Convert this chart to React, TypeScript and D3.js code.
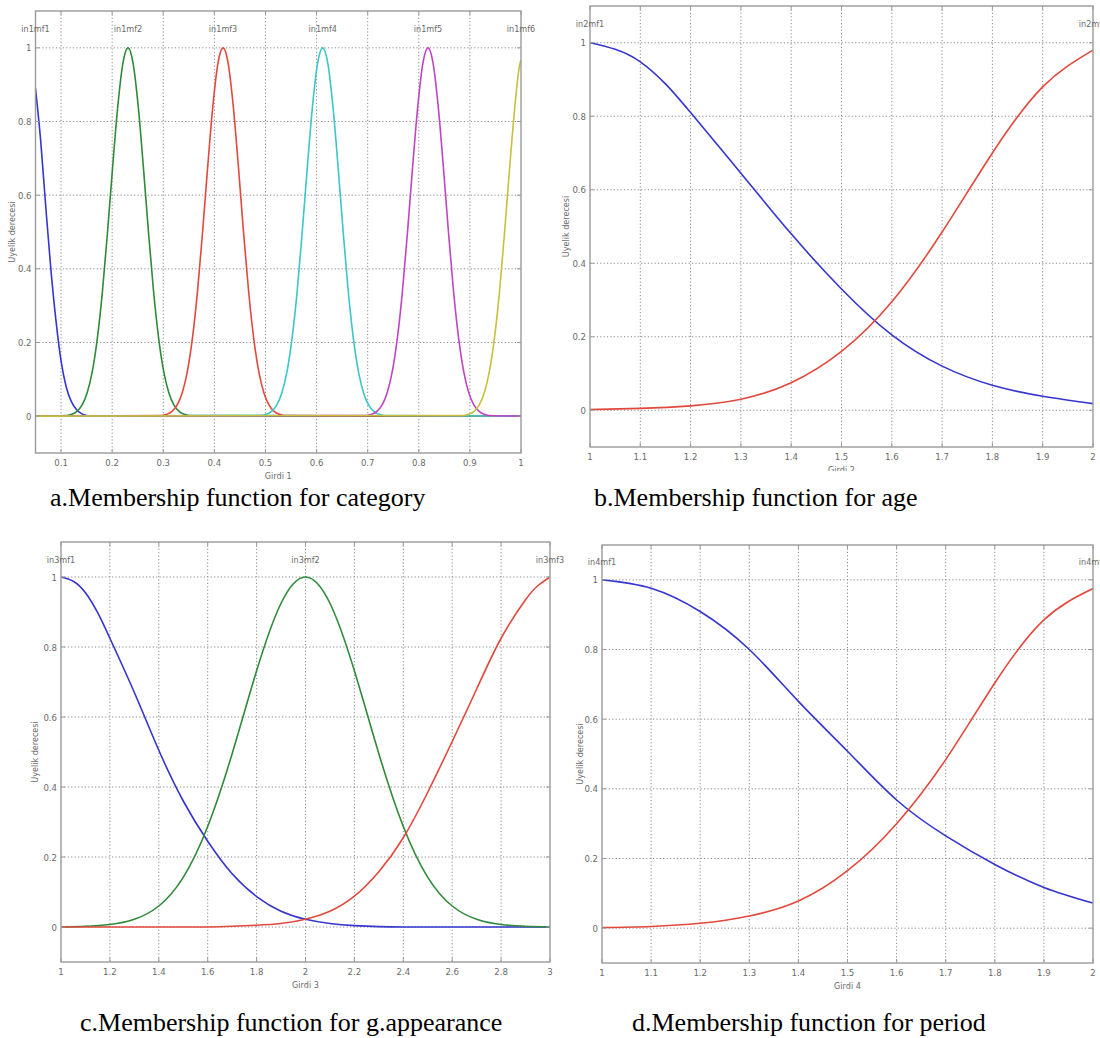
import React from 'react';
import * as d3 from 'd3';

type P = [number, number];

// ---------- Panel a: category ----------
const aXTicks = [0.1, 0.2, 0.3, 0.4, 0.5, 0.6, 0.7, 0.8, 0.9, 1];
const aLabels = ['in1mf1', 'in1mf2', 'in1mf3', 'in1mf4', 'in1mf5', 'in1mf6'];
const aLabelX = [0.05, 0.231, 0.417, 0.612, 0.818, 1.0];
const aMf1: P[] = [[0.05, 0.89], [0.06, 0.75], [0.07, 0.57], [0.08, 0.4], [0.09, 0.26], [0.1, 0.15], [0.11, 0.08], [0.12, 0.04], [0.13, 0.018], [0.14, 0.007], [0.15, 0.002], [0.16, 0], [1, 0]];
const aMf2: P[] = [[0.05, 0], [0.111, 0.002], [0.121, 0.005], [0.131, 0.013], [0.141, 0.03], [0.151, 0.063], [0.161, 0.12], [0.171, 0.211], [0.181, 0.339], [0.191, 0.501], [0.201, 0.678], [0.211, 0.841], [0.221, 0.958], [0.231, 1], [0.241, 0.958], [0.251, 0.841], [0.261, 0.678], [0.271, 0.501], [0.281, 0.339], [0.291, 0.211], [0.301, 0.12], [0.311, 0.063], [0.321, 0.03], [0.331, 0.013], [0.341, 0.005], [0.351, 0.002], [1, 0]];
const aMf3: P[] = [[0.05, 0], [0.297, 0.002], [0.307, 0.005], [0.317, 0.013], [0.327, 0.03], [0.337, 0.063], [0.347, 0.12], [0.357, 0.211], [0.367, 0.339], [0.377, 0.501], [0.387, 0.678], [0.397, 0.841], [0.407, 0.958], [0.417, 1], [0.427, 0.958], [0.437, 0.841], [0.447, 0.678], [0.457, 0.501], [0.467, 0.339], [0.477, 0.211], [0.487, 0.12], [0.497, 0.063], [0.507, 0.03], [0.517, 0.013], [0.527, 0.005], [0.537, 0.002], [1, 0]];
const aMf4: P[] = [[0.05, 0], [0.492, 0.002], [0.502, 0.005], [0.512, 0.013], [0.522, 0.03], [0.532, 0.063], [0.542, 0.12], [0.552, 0.211], [0.562, 0.339], [0.572, 0.501], [0.582, 0.678], [0.592, 0.841], [0.602, 0.958], [0.612, 1], [0.622, 0.958], [0.632, 0.841], [0.642, 0.678], [0.652, 0.501], [0.662, 0.339], [0.672, 0.211], [0.682, 0.12], [0.692, 0.063], [0.702, 0.03], [0.712, 0.013], [0.722, 0.005], [0.732, 0.002], [1, 0]];
const aMf5: P[] = [[0.05, 0], [0.698, 0.002], [0.708, 0.005], [0.718, 0.013], [0.728, 0.03], [0.738, 0.063], [0.748, 0.12], [0.758, 0.211], [0.768, 0.339], [0.778, 0.501], [0.788, 0.678], [0.798, 0.841], [0.808, 0.958], [0.818, 1], [0.828, 0.958], [0.838, 0.841], [0.848, 0.678], [0.858, 0.501], [0.868, 0.339], [0.878, 0.211], [0.888, 0.12], [0.898, 0.063], [0.908, 0.03], [0.918, 0.013], [0.928, 0.005], [0.938, 0.002], [1, 0]];
const aMf6: P[] = [[0.05, 0], [0.888, 0.002], [0.898, 0.005], [0.908, 0.013], [0.918, 0.03], [0.928, 0.063], [0.938, 0.12], [0.948, 0.211], [0.958, 0.339], [0.968, 0.501], [0.978, 0.678], [0.988, 0.841], [0.998, 0.958], [1.0, 0.967]];

// ---------- Panel b: age ----------
const bXTicks = [1, 1.1, 1.2, 1.3, 1.4, 1.5, 1.6, 1.7, 1.8, 1.9, 2];
const bLabels = ['in2mf1', 'in2mf2'];
const bLabelX = [1.0, 2.0];
const bMf1: P[] = [[1, 1], [1.05, 0.982], [1.1, 0.948], [1.15, 0.888], [1.2, 0.81], [1.3, 0.645], [1.4, 0.48], [1.5, 0.33], [1.6, 0.205], [1.7, 0.12], [1.8, 0.068], [1.9, 0.038], [2, 0.018]];
const bMf2: P[] = [[1, 0.002], [1.1, 0.005], [1.2, 0.012], [1.3, 0.03], [1.4, 0.075], [1.5, 0.16], [1.6, 0.295], [1.7, 0.485], [1.8, 0.7], [1.9, 0.88], [2, 0.98]];

// ---------- Panel c: g.appearance ----------
const cXTicks = [1, 1.2, 1.4, 1.6, 1.8, 2, 2.2, 2.4, 2.6, 2.8, 3];
const cLabels = ['in3mf1', 'in3mf2', 'in3mf3'];
const cLabelX = [1.0, 2.0, 3.0];
const cMf1: P[] = [[1, 1], [1.05, 0.988], [1.1, 0.955], [1.15, 0.898], [1.2, 0.825], [1.3, 0.67], [1.4, 0.505], [1.5, 0.36], [1.6, 0.245], [1.7, 0.152], [1.8, 0.087], [1.9, 0.045], [2, 0.022], [2.1, 0.01], [2.2, 0.004], [2.3, 0.001], [2.4, 0], [2.5, 0], [2.6, 0], [2.7, 0], [2.8, 0], [2.9, 0], [3, 0]];
const cMf2: P[] = [[1, 0], [1.1, 0.002], [1.2, 0.007], [1.3, 0.022], [1.4, 0.06], [1.5, 0.142], [1.6, 0.287], [1.7, 0.495], [1.8, 0.732], [1.9, 0.925], [2, 1], [2.1, 0.925], [2.2, 0.732], [2.3, 0.495], [2.4, 0.287], [2.5, 0.142], [2.6, 0.06], [2.7, 0.022], [2.8, 0.007], [2.9, 0.002], [3, 0]];
const cMf3: P[] = [[1, 0], [1.1, 0], [1.2, 0], [1.3, 0], [1.4, 0], [1.5, 0], [1.6, 0], [1.7, 0.002], [1.8, 0.005], [1.9, 0.01], [2, 0.022], [2.1, 0.045], [2.2, 0.088], [2.3, 0.158], [2.4, 0.255], [2.5, 0.385], [2.6, 0.53], [2.7, 0.68], [2.8, 0.825], [2.9, 0.935], [2.95, 0.975], [3, 1]];

// ---------- Panel d: period ----------
const dXTicks = [1, 1.1, 1.2, 1.3, 1.4, 1.5, 1.6, 1.7, 1.8, 1.9, 2];
const dLabels = ['in4mf1', 'in4mf2'];
const dLabelX = [1.0, 2.0];
const dMf1: P[] = [[1, 1], [1.1, 0.976], [1.2, 0.909], [1.3, 0.8], [1.4, 0.651], [1.5, 0.508], [1.6, 0.368], [1.7, 0.265], [1.8, 0.183], [1.9, 0.117], [2, 0.072]];
const dMf2: P[] = [[1, 0.002], [1.1, 0.005], [1.2, 0.014], [1.3, 0.035], [1.4, 0.078], [1.5, 0.165], [1.6, 0.3], [1.7, 0.484], [1.8, 0.704], [1.9, 0.885], [2, 0.975]];

const yTicks = [0, 0.2, 0.4, 0.6, 0.8, 1];

const C = {
  blue: '#3535d0',
  green: '#2f8a3a',
  red: '#e2483c',
  cyan: '#3cc6c8',
  magenta: '#c045c2',
  yellow: '#c6c03c',
};

const TICKFONT = '"Liberation Sans Narrow", "Arial Narrow", "DejaVu Sans Condensed", sans-serif';

interface Series { pts: P[]; color: string; }
interface PanelProps {
  id: string;
  left: number; right: number; top: number; bottom: number;
  xDomain: [number, number];
  xTicks: number[];
  series: Series[];
  labels: string[];
  labelX: number[];
  xLabel: string;
  yLabelX: number;
  caption: string;
  captionX: number;
  captionY: number;
  xLabelClip?: number;
  smooth?: boolean;
}

function Panel(p: PanelProps) {
  const x = d3.scaleLinear().domain(p.xDomain).range([p.left, p.right]);
  const y = d3.scaleLinear().domain([-0.1, 1.1]).range([p.bottom, p.top]);
  const line = d3.line<P>().x(d => x(d[0])).y(d => y(d[1]))
    .curve(p.smooth ? d3.curveNatural : d3.curveMonotoneX);
  const fmt = d3.format('~g');
  const gridColor = '#8a8a8a';
  const axisColor = '#9a9a9a';
  const inner = (v: number) => Math.abs(x(v) - p.left) > 1 && Math.abs(x(v) - p.right) > 1;
  const midX = (p.left + p.right) / 2;
  const midY = (y(0) + y(1)) / 2;
  return (
    <g>
      <defs>
        <clipPath id={`clip-${p.id}`}>
          <rect x={p.left} y={p.top} width={p.right - p.left} height={p.bottom - p.top} />
        </clipPath>
        {p.xLabelClip !== undefined && (
          <clipPath id={`xl-${p.id}`}>
            <rect x={p.left} y={0} width={p.right - p.left} height={p.xLabelClip} />
          </clipPath>
        )}
      </defs>
      {p.xTicks.filter(inner).map(t => (
        <line key={`gx${t}`} x1={x(t)} x2={x(t)} y1={p.top} y2={p.bottom} stroke={gridColor} strokeWidth={1} strokeDasharray="1.2,2.2" />
      ))}
      {yTicks.map(t => (
        <line key={`gy${t}`} x1={p.left} x2={p.right} y1={y(t)} y2={y(t)} stroke={gridColor} strokeWidth={1} strokeDasharray="1.2,2.2" />
      ))}
      <g clipPath={`url(#clip-${p.id})`}>
        {p.series.map((s, i) => (
          <path key={i} d={line(s.pts) || ''} fill="none" stroke={s.color} strokeWidth={1.6} strokeLinejoin="round" />
        ))}
      </g>
      <rect x={p.left} y={p.top} width={p.right - p.left} height={p.bottom - p.top} fill="none" stroke={axisColor} strokeWidth={1.4} />
      {p.xTicks.map(t => (
        <g key={`tx${t}`}>
          <line x1={x(t)} x2={x(t)} y1={p.bottom} y2={p.bottom - 4} stroke={axisColor} />
          <line x1={x(t)} x2={x(t)} y1={p.top} y2={p.top + 4} stroke={axisColor} />
          <text x={x(t)} y={p.bottom + 13} textAnchor="middle" fontSize={9.5} fill="#6a6a6a" fontFamily={TICKFONT}>{fmt(t)}</text>
        </g>
      ))}
      {yTicks.map(t => (
        <g key={`ty${t}`}>
          <line x1={p.left} x2={p.left + 4} y1={y(t)} y2={y(t)} stroke={axisColor} />
          <line x1={p.right} x2={p.right - 4} y1={y(t)} y2={y(t)} stroke={axisColor} />
          <text x={p.left - 4} y={y(t) + 3.5} textAnchor="end" fontSize={9.5} fill="#6a6a6a" fontFamily={TICKFONT}>{fmt(t)}</text>
        </g>
      ))}
      {p.labels.map((l, i) => (
        <text key={l} x={x(p.labelX[i])} y={y(1.05) + 3} textAnchor="middle" fontSize={9} fill="#6a6a6a" fontFamily={TICKFONT}>{l}</text>
      ))}
      <text x={midX} y={p.bottom + 26} textAnchor="middle" fontSize={9} fill="#6a6a6a" fontFamily={TICKFONT}
        clipPath={p.xLabelClip !== undefined ? `url(#xl-${p.id})` : undefined}>{p.xLabel}</text>
      <text transform={`translate(${p.yLabelX},${midY}) rotate(-90)`} textAnchor="middle" fontSize={9} fill="#6a6a6a" fontFamily={TICKFONT}>Uyelik derecesi</text>
      <text x={p.captionX} y={p.captionY} fontSize={26} fill="#000" fontFamily='"Liberation Serif", "Times New Roman", serif'>{p.caption}</text>
    </g>
  );
}

export default function App() {
  return (
    <svg width={1100} height={1038} style={{ position: 'absolute', left: 0, top: 0, background: '#fff' }}>
      <rect x={0} y={0} width={1100} height={1038} fill="#fff" />
      <Panel id="a" left={35.5} right={521} top={11} bottom={453} xDomain={[0.05, 1]} xTicks={aXTicks}
        series={[
          { pts: aMf1, color: C.blue }, { pts: aMf2, color: C.green }, { pts: aMf3, color: C.red },
          { pts: aMf4, color: C.cyan }, { pts: aMf5, color: C.magenta }, { pts: aMf6, color: C.yellow },
        ]}
        labels={aLabels} labelX={aLabelX} xLabel="Girdi 1" yLabelX={15}
        caption="a.Membership function for category" captionX={50} captionY={506} />
      <Panel id="b" left={590} right={1093} top={6} bottom={447} xDomain={[1, 2]} xTicks={bXTicks} smooth
        series={[{ pts: bMf1, color: C.blue }, { pts: bMf2, color: C.red }]}
        labels={bLabels} labelX={bLabelX} xLabel="Girdi 2" yLabelX={569} xLabelClip={471}
        caption="b.Membership function for age" captionX={594} captionY={506} />
      <Panel id="c" left={61} right={550} top={542} bottom={962} xDomain={[1, 3]} xTicks={cXTicks} smooth
        series={[{ pts: cMf1, color: C.blue }, { pts: cMf2, color: C.green }, { pts: cMf3, color: C.red }]}
        labels={cLabels} labelX={cLabelX} xLabel="Girdi 3" yLabelX={38}
        caption="c.Membership function for g.appearance" captionX={80} captionY={1031} />
      <Panel id="d" left={602} right={1093} top={545} bottom={963} xDomain={[1, 2]} xTicks={dXTicks} smooth
        series={[{ pts: dMf1, color: C.blue }, { pts: dMf2, color: C.red }]}
        labels={dLabels} labelX={dLabelX} xLabel="Girdi 4" yLabelX={583}
        caption="d.Membership function for period" captionX={632} captionY={1031} />
    </svg>
  );
}
